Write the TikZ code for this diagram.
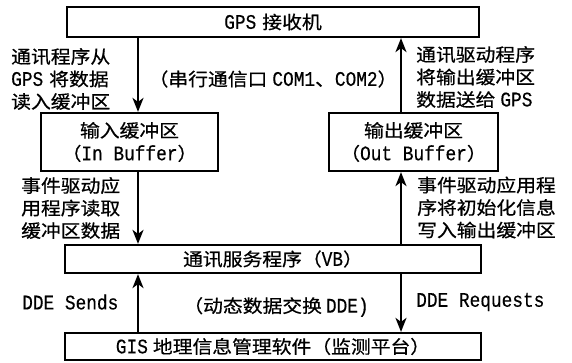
\documentclass[tikz,border=0pt]{standalone}
\usepackage{fontspec}
\setmainfont{Liberation Mono}[Scale=1.15, FakeStretch=0.86, FakeBold=0.4]
\newfontfamily\cjk{Noto Sans CJK SC}[FakeStretch=1.1, FakeBold=0.6]
\usetikzlibrary{arrows.meta}
\newcommand{\zh}[1]{{\cjk #1}}
\begin{document}
\begin{tikzpicture}[x=1pt,y=-1pt,
  txt/.style={font=\fontsize{18}{22.5}\selectfont, inner sep=0pt, align=left},
  box/.style={draw, line width=2.2pt, font=\fontsize{18}{23}\selectfont, inner sep=0pt, align=center},
  arr/.style={line width=2.2pt, -{Stealth[length=14pt,width=11pt,inset=4pt]}}]
\useasboundingbox (0,0) rectangle (572,362);
% boxes
\node[box, minimum width=412pt, minimum height=30pt] (gps) at (273,22) {GPS\hspace{6pt}\zh{接收机}};
\node[box, minimum width=177pt, minimum height=58pt] (inb) at (129.5,142) {\zh{输入缓冲区}\\\zh{（}In Buffer\zh{）}};
\node[box, minimum width=169pt, minimum height=58pt] (outb) at (413.5,142) {\zh{输出缓冲区}\\\zh{（}Out Buffer\zh{）}};
\node[box, minimum width=416pt, minimum height=28pt] (vb) at (273,259) {\zh{通讯服务程序（}VB\zh{）}};
\node[box, minimum width=416pt, minimum height=27pt] (gis) at (273,346.5) {GIS\hspace{5pt}\zh{地理信息管理软件（监测平台）}};
% arrow columns
\coordinate (xl) at (138,0);
\coordinate (xr) at (401,0);
\draw[arr] (gps.south -| xl) -- (inb.north -| xl);
\draw[arr] (outb.north -| xr) -- (gps.south -| xr);
\draw[arr] (inb.south -| xl) -- (vb.north -| xl);
\draw[arr] (vb.north -| xr) -- (outb.south -| xr);
\draw[arr] (gis.north -| xl) -- (vb.south -| xl);
\draw[arr] (vb.south -| xr) -- (gis.north -| xr);
% labels
\node[txt, anchor=west] (l1) at (11,79) {\zh{通讯程序从}\\GPS\hspace{6pt}\zh{将数据}\\\zh{读入缓冲区}};
\node[txt, anchor=west] (r1) at (416,77) {\zh{通讯驱动程序}\\\zh{将输出缓冲区}\\\zh{数据送给}\hspace{5pt}GPS};
\node[txt] (m1) at (273,79) {\zh{（串行通信口}\hspace{5pt}COM1\zh{、}COM2\zh{）}};
\node[txt, anchor=west] (l2) at (21,208) {\zh{事件驱动应}\\\zh{用程序读取}\\\zh{缓冲区数据}};
\node[txt, anchor=west] (r2) at (417,207.5) {\zh{事件驱动应用程}\\\zh{序将初始化信息}\\\zh{写入输出缓冲区}};
\node[txt, anchor=west] (l3) at (22,302) {DDE Sends};
\node[txt] (m3) at (276,307) {\zh{（动态数据交换}\hspace{4pt}DDE)};
\node[txt, anchor=west] (r3) at (416,302) {DDE Requests};
\end{tikzpicture}
\end{document}
